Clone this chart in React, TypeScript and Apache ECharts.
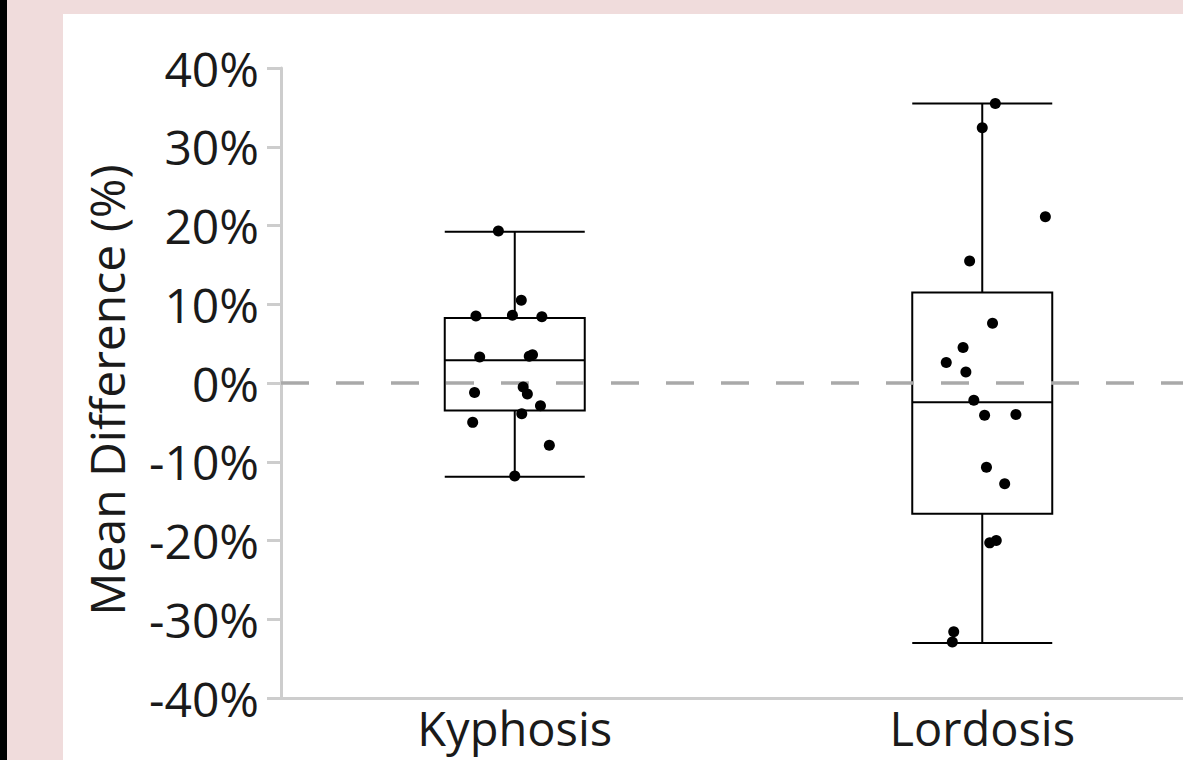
import React, { useEffect, useRef } from "react";
import * as echarts from "echarts";

const categories = ["Kyphosis", "Lordosis"];
// [min, Q1, median, Q3, max] in %
const boxKyphosis = [-11.9, -3.5, 2.9, 8.25, 19.2];
const boxLordosis = [-33.0, -16.6, -2.45, 11.5, 35.5];

// individual points: value (%) and horizontal jitter (fraction of category band)
const kyphosisValues = [19.3, 10.5, 8.5, 8.6, 8.4, 3.3, 3.6, 3.4, -1.2, -0.5, -1.4, -2.9, -3.9, -5.0, -7.9, -11.8];
const kyphosisJitter = [-0.035, 0.014, -0.083, -0.005, 0.058, -0.075, 0.038, 0.031, -0.086, 0.018, 0.027, 0.055, 0.015, -0.09, 0.074, 0.0];
const lordosisValues = [35.5, 32.4, 21.1, 15.5, 7.6, 4.5, 2.6, 1.4, -2.2, -4.1, -4.0, -10.7, -12.8, -20.3, -20.0, -31.6, -32.9];
const lordosisJitter = [0.028, 0.0, 0.135, -0.027, 0.022, -0.041, -0.077, -0.035, -0.018, 0.005, 0.072, 0.009, 0.048, 0.016, 0.03, -0.061, -0.064];

const yTicks = { min: -40, max: 40, interval: 10 };

export default function App() {
  const ref = useRef<HTMLDivElement>(null);
  useEffect(() => {
    if (!ref.current) return;
    const chart = echarts.init(ref.current, null, { renderer: "svg" });
    const font = "'Open Sans', 'Noto Sans', sans-serif";
    const points: number[][] = [];
    kyphosisValues.forEach((v, i) => points.push([0.5 + kyphosisJitter[i], v]));
    lordosisValues.forEach((v, i) => points.push([1.5 + lordosisJitter[i], v]));
    chart.setOption({
      animation: false,
      backgroundColor: "#f0dcdc",
      graphic: [
        { type: "rect", shape: { x: 0, y: 0, width: 7, height: 760 }, style: { fill: "#000" }, z: -10, silent: true },
        { type: "rect", shape: { x: 63, y: 14, width: 1160, height: 746 }, style: { fill: "#ffffff" }, z: -10, silent: true },
      ],
      grid: { left: 281, top: 68, bottom: 62, right: 0, containLabel: false },
      xAxis: [
        {
          type: "category",
          data: categories,
          axisLine: { onZero: false, lineStyle: { color: "#cdcdcd", width: 3 } },
          axisTick: { show: false },
          axisLabel: { fontSize: 47, fontFamily: font, color: "#1a1a1a", margin: 6 },
          splitLine: { show: false },
        },
        { type: "value", min: 0, max: 2, show: false },
      ],
      yAxis: {
        type: "value",
        min: yTicks.min,
        max: yTicks.max,
        interval: yTicks.interval,
        name: "Mean Difference (%)",
        nameLocation: "middle",
        nameGap: 151,
        nameTextStyle: { fontSize: 48, fontFamily: font, color: "#1a1a1a", padding: [0, 14, 0, 0] },
        axisLine: { show: true, onZero: false, lineStyle: { color: "#cdcdcd", width: 3 } },
        axisTick: { show: true, length: 14, lineStyle: { color: "#cdcdcd", width: 3 } },
        axisLabel: { fontSize: 48, fontFamily: font, color: "#1a1a1a", margin: 22, formatter: (v: number) => v + "%" },
        splitLine: { show: false },
      },
      series: [
        {
          type: "boxplot",
          xAxisIndex: 0,
          data: [boxKyphosis, boxLordosis],
          boxWidth: [140, 140],
          itemStyle: { color: "rgba(0,0,0,0)", borderColor: "#000", borderWidth: 2 },
          markLine: {
            silent: true,
            symbol: "none",
            label: { show: false },
            lineStyle: { color: "#a9a9a9", width: 3.5, type: [28, 27] },
            data: [{ yAxis: 0 }],
          },
        },
        {
          type: "scatter",
          xAxisIndex: 1,
          data: points,
          symbolSize: 11,
          itemStyle: { color: "#000", opacity: 1 },
          z: 5,
        },
      ],
    });
    return () => chart.dispose();
  }, []);
  return (
    <div style={{ position: "fixed", left: 0, top: 0, width: 1183, height: 760, overflow: "hidden" }}>
      <div ref={ref} style={{ width: 1216, height: 760 }} />
    </div>
  );
}
